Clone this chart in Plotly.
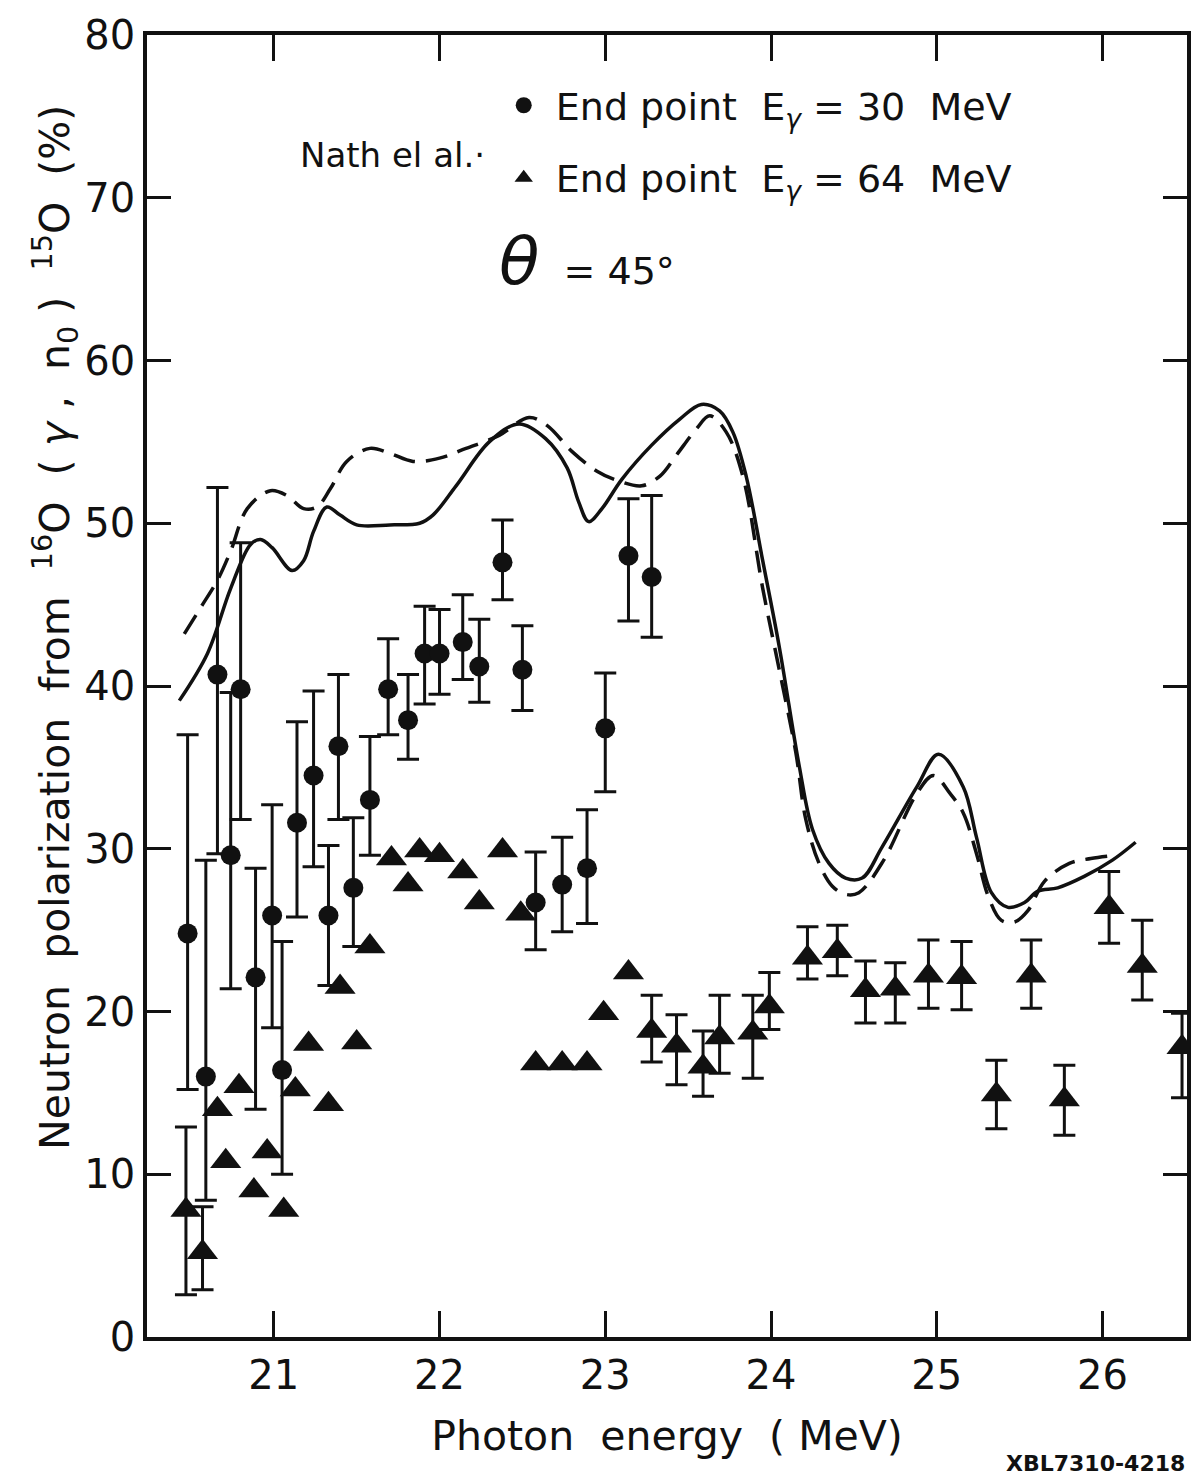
import plotly.graph_objects as go

# ---- Data: End point E_gamma = 30 MeV (circles) ----
e30_x = [20.48, 20.59, 20.66, 20.74, 20.80, 20.89, 20.99, 21.05, 21.14, 21.24,
         21.33, 21.39, 21.48, 21.58, 21.69, 21.81, 21.91, 22.00, 22.14, 22.24,
         22.38, 22.50, 22.58, 22.74, 22.89, 23.00, 23.14, 23.28]
e30_y = [24.8, 16.0, 40.7, 29.6, 39.8, 22.1, 25.9, 16.4, 31.6, 34.5,
         25.9, 36.3, 27.6, 33.0, 39.8, 37.9, 42.0, 42.0, 42.7, 41.2,
         47.6, 41.0, 26.7, 27.8, 28.8, 37.4, 48.0, 46.7]
e30_hi = [37.0, 29.3, 52.2, 39.6, 48.8, 28.8, 32.7, 24.3, 37.8, 39.7,
          30.2, 40.7, 31.9, 36.9, 42.9, 40.7, 44.9, 44.7, 45.6, 44.1,
          50.2, 43.7, 29.8, 30.7, 32.4, 40.8, 51.5, 51.7]
e30_lo = [15.2, 8.4, 29.7, 21.4, 31.8, 14.0, 19.0, 10.0, 25.8, 28.9,
          21.6, 31.8, 24.0, 29.6, 37.0, 35.5, 38.9, 39.5, 40.4, 39.0,
          45.3, 38.5, 23.8, 24.9, 25.4, 33.5, 44.0, 43.0]

# ---- Data: End point E_gamma = 64 MeV (triangles) ----
e64_x = [20.47, 20.57, 20.66, 20.71, 20.79, 20.88, 20.96, 21.06, 21.13, 21.21,
         21.33, 21.40, 21.50, 21.58, 21.71, 21.81, 21.88, 22.00, 22.14, 22.24,
         22.38, 22.49, 22.58, 22.74, 22.89, 22.99, 23.14, 23.28, 23.43, 23.59,
         23.69, 23.89, 23.99, 24.22, 24.40, 24.57, 24.75, 24.95, 25.15, 25.36,
         25.57, 25.77, 26.04, 26.24, 26.48]
e64_y = [7.8, 5.2, 14.0, 10.8, 15.4, 9.0, 11.4, 7.8, 15.2, 18.0,
         14.3, 21.5, 18.1, 24.0, 29.4, 27.8, 29.9, 29.6, 28.6, 26.7,
         29.9, 26.0, 16.8, 16.8, 16.8, 19.9, 22.4, 18.8, 17.9, 16.6,
         18.4, 18.7, 20.3, 23.3, 23.7, 21.3, 21.4, 22.2, 22.1, 14.9,
         22.2, 14.6, 26.4, 22.8, 17.8]
e64_hi = [12.9, 8.0, None, None, None, None, None, None, None, None,
          None, None, None, None, None, None, None, None, None, None,
          None, None, None, None, None, None, None, 21.0, 19.8, 18.8,
          21.0, 21.0, 22.4, 25.2, 25.3, 23.1, 23.0, 24.4, 24.3, 17.0,
          24.4, 16.7, 28.6, 25.6, 19.9]
e64_lo = [2.6, 2.9, None, None, None, None, None, None, None, None,
          None, None, None, None, None, None, None, None, None, None,
          None, None, None, None, None, None, None, 16.9, 15.5, 14.8,
          16.2, 15.9, 18.9, 22.0, 22.2, 19.3, 19.3, 20.2, 20.1, 12.8,
          20.2, 12.4, 24.2, 20.7, 14.7]

# ---- Theory curves ----
solid_x = [20.43, 20.60, 20.74, 20.86, 20.92, 20.99, 21.11, 21.18, 21.24, 21.32,
           21.40, 21.50, 21.70, 21.88, 21.96, 22.10, 22.30, 22.48, 22.64, 22.77,
           22.84, 22.90, 22.98, 23.10, 23.28, 23.45, 23.58, 23.69, 23.77, 23.85,
           23.95, 24.05, 24.17, 24.25, 24.35, 24.45, 24.55, 24.67, 24.88, 25.01,
           25.16, 25.24, 25.33, 25.43, 25.53, 25.61, 25.73, 25.89, 26.06, 26.20]
solid_y = [39.1, 42.0, 46.0, 48.7, 49.0, 48.5, 47.1, 47.7, 49.5, 51.0,
           50.5, 49.9, 49.9, 50.0, 50.5, 52.3, 55.0, 56.1, 55.2, 53.4,
           51.3, 50.1, 50.9, 52.7, 54.8, 56.4, 57.3, 56.9, 55.6, 52.9,
           47.7, 42.4, 35.1, 31.2, 29.1, 28.2, 28.2, 30.1, 33.8, 35.8,
           33.8, 30.7, 27.3, 26.4, 26.7, 27.4, 27.6, 28.3, 29.3, 30.4]

dash_x = [20.46, 20.57, 20.66, 20.74, 20.84, 20.98, 21.08, 21.18, 21.26, 21.34,
          21.44, 21.58, 21.70, 21.84, 22.00, 22.16, 22.36, 22.54, 22.65, 22.80,
          22.95, 23.08, 23.22, 23.33, 23.43, 23.55, 23.63, 23.73, 23.83, 23.95,
          24.05, 24.15, 24.21, 24.29, 24.37, 24.45, 24.53, 24.68, 24.88, 24.98,
          25.08, 25.16, 25.24, 25.31, 25.39, 25.47, 25.55, 25.65, 25.80, 25.93,
          26.08]
dash_y = [43.2, 45.0, 46.5, 48.3, 50.9, 52.0, 51.7, 50.9, 51.0, 52.1,
          53.8, 54.6, 54.3, 53.8, 54.0, 54.6, 55.4, 56.5, 56.0, 54.4,
          53.2, 52.6, 52.3, 52.9, 54.2, 55.8, 56.6, 55.6, 52.9, 46.0,
          41.0, 35.9, 31.8, 29.1, 27.7, 27.2, 27.3, 29.3, 33.4, 34.5,
          33.4, 32.2, 29.7, 27.1, 25.6, 25.5, 26.2, 28.0, 29.1, 29.4,
          29.6]

x_ticks = [21, 22, 23, 24, 25, 26]
y_ticks = [0, 10, 20, 30, 40, 50, 60, 70, 80]

FONT = "DejaVu Sans"
INK = "#111111"

fig = go.Figure()

fig.add_trace(go.Scatter(x=solid_x, y=solid_y, mode="lines", line_shape="spline",
                         line=dict(color=INK, width=3.5), showlegend=False,
                         hoverinfo="skip"))
fig.add_trace(go.Scatter(x=dash_x, y=dash_y, mode="lines", line_shape="spline",
                         line=dict(color=INK, width=3.5, dash="22px,11px"),
                         showlegend=False, hoverinfo="skip"))

err_style = dict(type="data", symmetric=False, color=INK, thickness=3, width=11)

e30_plus = [h - v for h, v in zip(e30_hi, e30_y)]
e30_minus = [v - l for l, v in zip(e30_lo, e30_y)]
fig.add_trace(go.Scatter(
    x=e30_x, y=e30_y, mode="markers",
    marker=dict(symbol="circle", size=20, color=INK),
    error_y=dict(array=e30_plus, arrayminus=e30_minus, **err_style),
    name="&nbsp;End point  E<sub><i>γ</i></sub> = 30  MeV", legendgroup="a"))

idx_e = [i for i, h in enumerate(e64_hi) if h is not None]
idx_n = [i for i, h in enumerate(e64_hi) if h is None]
fig.add_trace(go.Scatter(
    x=[e64_x[i] for i in idx_n], y=[e64_y[i] for i in idx_n], mode="markers",
    marker=dict(symbol="triangle-up", size=27, color=INK),
    showlegend=False, legendgroup="b"))
fig.add_trace(go.Scatter(
    x=[e64_x[i] for i in idx_e], y=[e64_y[i] for i in idx_e], mode="markers",
    marker=dict(symbol="triangle-up", size=27, color=INK),
    error_y=dict(array=[e64_hi[i] - e64_y[i] for i in idx_e],
                 arrayminus=[e64_y[i] - e64_lo[i] for i in idx_e], **err_style),
    name="&nbsp;End point  E<sub><i>γ</i></sub> = 64  MeV", legendgroup="b"))

axis_common = dict(showline=True, linecolor=INK, linewidth=3.5, mirror="ticks",
                   ticks="inside", tickcolor=INK, tickwidth=3, showgrid=False,
                   zeroline=False, tickfont=dict(family=FONT, size=40, color=INK))

fig.update_xaxes(range=[20.235, 26.51], tickvals=x_ticks, ticklen=26,
                 title=dict(text="Photon  energy  ( MeV)", standoff=26,
                            font=dict(family=FONT, size=41, color=INK)),
                 **axis_common)
fig.update_yaxes(range=[0, 80], tickvals=y_ticks, ticklen=24, **axis_common)

fig.update_layout(
    width=1203, height=1482,
    margin=dict(l=147, r=15, t=24, b=145),
    paper_bgcolor="white", plot_bgcolor="white",
    font=dict(family=FONT, color=INK),
    legend=dict(x=0.343, y=0.970, xanchor="left", yanchor="top",
                bgcolor="rgba(0,0,0,0)", font=dict(family=FONT, size=38, color=INK),
                tracegroupgap=20, itemsizing="trace"),
    annotations=[
        dict(text="Neutron  polarization  from  <sup>16</sup>O  ( <i>γ</i> ,  n<sub>0</sub> )  <sup>15</sup>O  (%)",
             x=-0.088, y=0.545, xref="paper", yref="paper", textangle=-90,
             xanchor="center", yanchor="middle", showarrow=False,
             font=dict(family=FONT, size=41, color=INK)),
        dict(text="Nath el al.·", x=0.145, y=0.908, xref="paper", yref="paper",
             xanchor="left", yanchor="middle", showarrow=False,
             font=dict(family=FONT, size=34, color=INK)),
        dict(text="<span style='font-size:66px'><i>θ</i></span>  = 45°", x=0.337, y=0.826,
             xref="paper", yref="paper", xanchor="left", yanchor="middle",
             showarrow=False, font=dict(family=FONT, size=38, color=INK)),
        dict(text="<b>XBL7310-4218</b>", x=1.0, y=-0.0975, xref="paper", yref="paper",
             xanchor="right", yanchor="middle", showarrow=False,
             font=dict(family=FONT, size=22, color=INK)),
    ],
)

fig.write_html("out.html")
